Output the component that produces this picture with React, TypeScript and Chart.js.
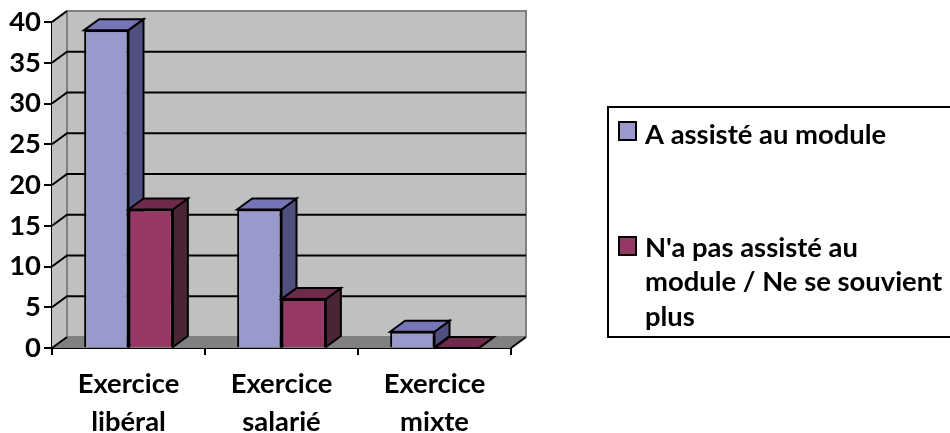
import React, { useEffect, useRef } from "react";
import { Chart, registerables } from "chart.js";

Chart.register(...registerables);

const categories = [["Exercice", "libéral"], ["Exercice", "salarié"], ["Exercice", "mixte"]];
const attended = [39, 17, 2];
const notAttended = [17, 6, 0];
const seriesLegendLines = [["A assisté au module"], ["N'a pas assisté au", "module / Ne se souvient", "plus"]];
const yMax = 40;
const yStep = 5;

const FONT = "Lato, Carlito, sans-serif";
const FONT_SIZE = 27.4;
const DX = 15;
const DY = -11;
const faces = [
  { front: "#9999CC", top: "#7575B8", side: "#4F4F80" },
  { front: "#953864", top: "#6E2A4A", side: "#4A2535" },
];

function poly(ctx: CanvasRenderingContext2D, pts: number[][], fill: string | null, stroke: string | null, lw = 2) {
  ctx.beginPath();
  pts.forEach((p, i) => (i ? ctx.lineTo(p[0], p[1]) : ctx.moveTo(p[0], p[1])));
  ctx.closePath();
  if (fill) { ctx.fillStyle = fill; ctx.fill(); }
  if (stroke) { ctx.strokeStyle = stroke; ctx.lineWidth = lw; ctx.lineJoin = "miter"; ctx.stroke(); }
}

function drawDepth(ctx: CanvasRenderingContext2D, meta: any, f: { top: string; side: string }) {
  for (const el of meta.data) {
    const x0 = el.x - el.width / 2;
    const x1 = el.x + el.width / 2;
    const yt = el.y;
    const yb = el.base;
    poly(ctx, [[x1, yt], [x1 + DX, yt + DY], [x1 + DX, yb + DY], [x1, yb]], f.side, "#000");
    poly(ctx, [[x0, yt], [x0 + DX, yt + DY], [x1 + DX, yt + DY], [x1, yt]], f.top, "#000");
  }
}

const wallsPlugin = {
  id: "walls",
  beforeDatasetsDraw(chart: any) {
    const { ctx, chartArea: a, scales } = chart;
    const { left: l, right: r, top: t, bottom: b } = a;
    ctx.save();
    poly(ctx, [[l + DX, t + DY], [r + DX, t + DY], [r + DX, b + DY], [l + DX, b + DY]], "#C0C0C0", null);
    poly(ctx, [[l, t], [l + DX, t + DY], [l + DX, b + DY], [l, b]], "#C0C0C0", null);
    poly(ctx, [[l, b], [l + DX, b + DY], [r + DX, b + DY], [r, b]], "#808080", null);
    ctx.strokeStyle = "#808080";
    ctx.lineWidth = 2;
    ctx.beginPath();
    ctx.moveTo(l, t);
    ctx.lineTo(l + DX, t + DY);
    ctx.lineTo(r + DX, t + DY);
    ctx.lineTo(r + DX, b + DY);
    ctx.moveTo(l + DX, t + DY);
    ctx.lineTo(l + DX, b + DY);
    ctx.lineTo(r + DX, b + DY);
    ctx.stroke();
    ctx.strokeStyle = "#000";
    ctx.beginPath();
    for (const tick of scales.y.ticks) {
      const y = scales.y.getPixelForValue(tick.value);
      if (tick.value === 0) {
        ctx.moveTo(l, y);
        ctx.lineTo(l + DX, y + DY);
        ctx.moveTo(r, y);
        ctx.lineTo(r + DX, y + DY);
      } else if (tick.value === yMax) {
        ctx.moveTo(l, y);
        ctx.lineTo(l + DX, y + DY);
      } else {
        ctx.moveTo(l, y);
        ctx.lineTo(l + DX, y + DY);
        ctx.lineTo(r + DX, y + DY);
      }
    }
    ctx.stroke();
    ctx.restore();
  },
  beforeDatasetDraw(chart: any, args: any) {
    // Chart.js paints the first dataset last; the right-hand series has to overlap the left one,
    // so it is held back and painted once the left series is done.
    if (args.index === 1) return false;
    const { ctx } = chart;
    ctx.save();
    drawDepth(ctx, args.meta, faces[args.index]);
    ctx.restore();
  },
  afterDatasetsDraw(chart: any) {
    const { ctx } = chart;
    const meta = chart.getDatasetMeta(1);
    ctx.save();
    drawDepth(ctx, meta, faces[1]);
    for (const el of meta.data) el.draw(ctx);
    ctx.restore();
  },
  afterDraw(chart: any) {
    const { ctx } = chart;
    ctx.save();
    ctx.strokeStyle = "#000";
    ctx.lineWidth = 2;
    ctx.strokeRect(608, 107, 360, 230);
    const rows = [
      { box: 122, base: [144] },
      { box: 237, base: [257, 291, 326] },
    ];
    ctx.font = `bold ${FONT_SIZE}px ${FONT}`;
    ctx.textAlign = "left";
    ctx.textBaseline = "alphabetic";
    seriesLegendLines.forEach((lines, i) => {
      ctx.fillStyle = faces[i].front;
      ctx.fillRect(619, rows[i].box, 17, 18);
      ctx.strokeStyle = "#000";
      ctx.strokeRect(619, rows[i].box, 17, 18);
      ctx.fillStyle = "#000";
      lines.forEach((t, j) => ctx.fillText(t, 645, rows[i].base[j]));
    });
    ctx.restore();
  },
};

export default function App() {
  const ref = useRef<HTMLCanvasElement>(null);
  useEffect(() => {
    const chart = new Chart(ref.current!, {
      type: "bar",
      data: {
        labels: categories as any,
        datasets: [
          { label: seriesLegendLines[0].join(" "), data: attended, backgroundColor: faces[0].front, borderColor: "#000", borderWidth: 2, clip: false },
          { label: seriesLegendLines[1].join(" "), data: notAttended, backgroundColor: faces[1].front, borderColor: "#000", borderWidth: 2, clip: false },
        ] as any,
      },
      options: {
        responsive: false,
        animation: false,
        layout: { autoPadding: false, padding: { left: 0, top: 22, right: 439, bottom: 0 } },
        plugins: { legend: { display: false }, tooltip: { enabled: false } },
        datasets: { bar: { categoryPercentage: 0.58, barPercentage: 1 } },
        scales: {
          x: {
            afterFit: (s: any) => { s.height = 85; },
            grid: { drawOnChartArea: false, drawTicks: true, tickLength: 7, color: "#000", lineWidth: 2 },
            border: { color: "#000", width: 2 },
            ticks: { color: "#000", maxRotation: 0, autoSkip: false, padding: 11, font: { family: FONT, weight: "bold", size: FONT_SIZE, lineHeight: 1.36 } },
          },
          y: {
            min: 0,
            max: yMax,
            afterFit: (s: any) => { s.width = 52; },
            grid: { drawOnChartArea: false, drawTicks: true, tickLength: 8, color: "#000", lineWidth: 2 },
            border: { color: "#000", width: 2 },
            ticks: { stepSize: yStep, color: "#000", padding: 3, font: { family: FONT, weight: "bold", size: FONT_SIZE } },
          },
        },
      } as any,
      plugins: [wallsPlugin as any],
    });
    return () => chart.destroy();
  }, []);
  return (
    <div style={{ position: "absolute", left: 0, top: 0, width: 950, height: 433, overflow: "hidden", background: "#fff" }}>
      <canvas ref={ref} width={950} height={433} style={{ display: "block" }} />
    </div>
  );
}
